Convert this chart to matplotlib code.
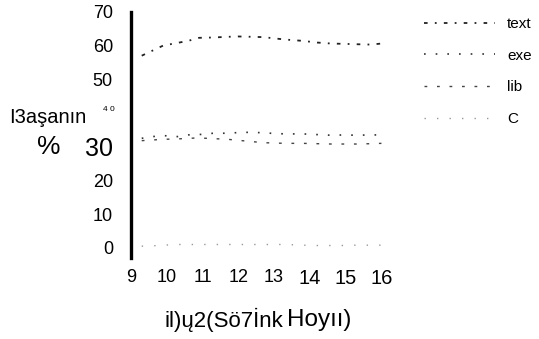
import matplotlib
matplotlib.use('Agg')
import matplotlib.pyplot as plt
import numpy as np

plt.rcParams['font.family'] = ['Liberation Sans', 'DejaVu Sans']

# values
years = [9.3, 9.6, 9.9, 10.3, 10.6, 10.9, 11.3, 11.7, 12.0, 12.4, 12.7, 13.3, 13.8, 14.2, 14.6, 15.0, 15.3, 15.7, 16.0]
text_vals = [57.0, 58.5, 60.0, 60.8, 61.4, 62.3, 62.4, 62.6, 62.7, 62.6, 62.5, 61.8, 61.4, 60.9, 60.6, 60.5, 60.4, 60.3, 60.6]
exe_vals = [32.5, 33.0, 33.3, 33.0, 33.5, 33.6, 34.0, 34.0, 34.2, 34.3, 34.1, 33.8, 33.8, 33.6, 33.4, 33.5, 33.4, 33.5, 33.5]
lib_vals = [31.8, 32.0, 32.2, 32.3, 32.5, 32.6, 32.4, 32.2, 31.9, 31.5, 31.2, 31.0, 31.0, 30.9, 30.8, 30.8, 30.8, 30.9, 31.0]
c_vals = [0.5, 0.6, 0.8, 1.0, 1.0, 1.0, 1.0, 1.0, 1.0, 1.0, 1.0, 1.0, 0.8, 0.7, 0.7, 0.7, 0.8, 0.8, 0.8]

xticks = [9, 10, 11, 12, 13, 14, 15, 16]
yticks = [0, 10, 20, 30, 40, 50, 60, 70]
series_names = ['text', 'exe', 'lib', 'C']

fig = plt.figure(figsize=(5.39, 3.39), dpi=100)
ax = fig.add_axes([0.243, 0.239, 0.468, 0.726])

ax.plot(years, text_vals, color='#222222', lw=1.3, ls=(0, (2, 4, 1, 4)), label=series_names[0])
ax.plot(years, exe_vals, color='#333333', lw=1.2, ls=(0, (1, 6)), label=series_names[1])
ax.plot(years, lib_vals, color='#444444', lw=1.0, ls=(0, (2, 7)), label=series_names[2])
ax.plot(years, c_vals, color='#555555', lw=1.0, ls=(0, (1, 8)), alpha=0.6, label=series_names[3])

ax.set_xlim(9, 16.05)
ax.set_ylim(-3, 70)
for s in ['top', 'right', 'bottom']:
    ax.spines[s].set_visible(False)
ax.spines['left'].set_linewidth(2.4)
ax.spines['left'].set_color('black')

ax.set_xticks(xticks)
ax.set_xticklabels([str(t) for t in xticks], fontsize=13)
ax.set_yticks(yticks)
ax.set_yticklabels([str(t) if t != 40 else '' for t in yticks], fontsize=13)
ax.tick_params(axis='both', length=0, pad=8)
ax.tick_params(axis='y', pad=13)

# odd sized tick labels as in the reference
for lbl in ax.get_yticklabels():
    if lbl.get_text() == '30':
        lbl.set_fontsize(18)
for lbl in ax.get_xticklabels():
    if lbl.get_text() in ('14', '15', '16'):
        lbl.set_fontsize(14.5)

fig.text(0.213, 0.678, '4 0', fontsize=6, ha='right', va='center')
fig.text(0.017, 0.652, 'I3aşanın', fontsize=14.5, ha='left', va='center')
fig.text(0.069, 0.566, '%', fontsize=19, ha='left', va='center')
fig.text(0.525, 0.057, 'il)ų2(Sö7İnk', fontsize=16, ha='right', va='center')
fig.text(0.532, 0.057, 'Hoyıı)', fontsize=17.5, ha='left', va='center')

ax.legend(loc='upper left', bbox_to_anchor=(0.762, 0.99), bbox_transform=fig.transFigure,
          frameon=False, fontsize=11, handlelength=4.6, handletextpad=0.8, labelspacing=1.15)

fig.savefig('out.png', dpi=100)
